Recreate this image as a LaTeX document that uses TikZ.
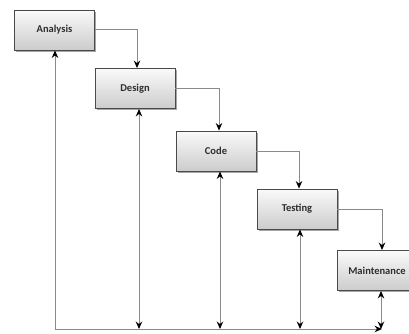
\documentclass[tikz,border=0pt]{standalone}
\usepackage{fontspec}
\setmainfont{Carlito}
\usetikzlibrary{arrows.meta,shadows}
\definecolor{linegray}{HTML}{8A8A8A}
\definecolor{boxborder}{HTML}{4A4A4A}
\definecolor{txt}{HTML}{2E2E2E}
\begin{document}
\begin{tikzpicture}[x=1pt,y=-1pt,
  phase/.style={draw=boxborder, line width=0.9pt, minimum width=80pt, minimum height=40pt,
    top color=gray!4, bottom color=gray!40, inner sep=0pt,
    font=\bfseries\fontsize{10.5}{12}\selectfont, text=txt,
    drop shadow={shadow xshift=1.6pt, shadow yshift=-1.6pt, opacity=0.35, fill=black}},
  tip/.style={-{Stealth[length=7.5pt,width=6.5pt,inset=2.5pt,color=black]}},
  flow/.style={draw=linegray, line width=1pt, tip},
  both/.style={draw=linegray, line width=1pt, {Stealth[length=7.5pt,width=6.5pt,inset=2.5pt,color=black]}-{Stealth[length=7.5pt,width=6.5pt,inset=2.5pt,color=black]}}]
\useasboundingbox (0,0) rectangle (409,334);
\clip (0,0) rectangle (409,334);
\node[phase] (a) at (54.5,30) {Analysis};
\node[phase] (d) at (135,88.5) {Design};
\node[phase] (c) at (216,151) {Code};
\node[phase] (t) at (297,209) {Testing};
\node[phase] (m) at (377,270.5) {Maintenance};
\coordinate (base) at (55,329);
\coordinate (endc) at (382,329);
% cascade connectors
\draw[flow] (a.east) -| ([xshift=2pt]d.north);
\draw[flow] (d.east) -| ([xshift=3pt]c.north);
\draw[flow] (c.east) -| ([xshift=2pt]t.north);
\draw[flow] (t.east) -| ([xshift=5pt]m.north);
% feedback lines
\draw[both] ([xshift=0.5pt]a.south) |- (endc);
\draw[both] ([xshift=4pt]d.south) -- ([xshift=4pt]d.south |- base);
\draw[both] ([xshift=4pt]c.south) -- ([xshift=4pt]c.south |- base);
\draw[both] ([xshift=3pt]t.south) -- ([xshift=3pt]t.south |- base);
\draw[both] ([xshift=4pt]m.south) -- ([xshift=4pt]m.south |- base);
\end{tikzpicture}
\end{document}
